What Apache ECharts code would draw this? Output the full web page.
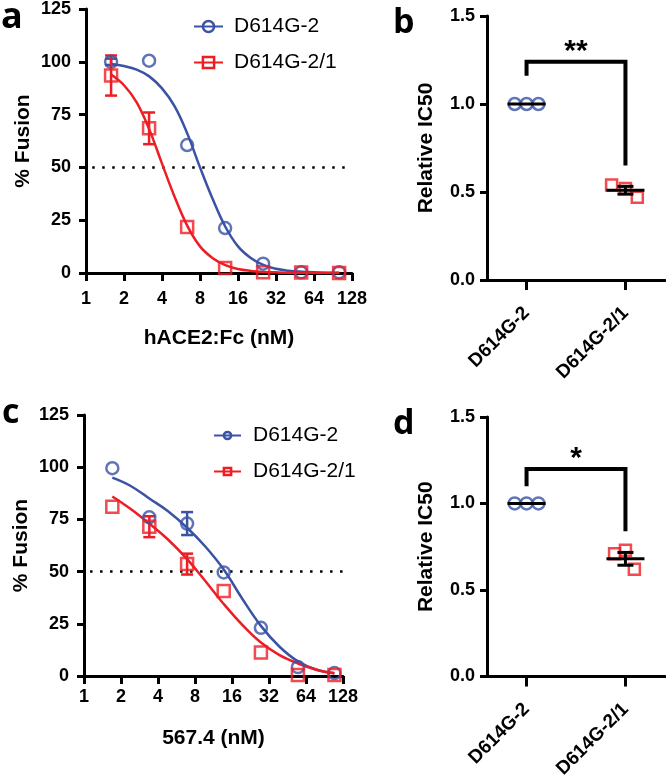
<!DOCTYPE html>
<html><head><meta charset="utf-8">
<script src="https://cdn.jsdelivr.net/npm/echarts@6/dist/echarts.min.js"></script>
<style>html,body{margin:0;padding:0;background:#fff}#c{width:666px;height:781px}</style>
</head><body><div id="c"></div>
<script>
// ---------- data ----------
const seriesNames = ['D614G-2', 'D614G-2/1'];
const groups = ['D614G-2', 'D614G-2/1'];
const fusionTicks = [0, 25, 50, 75, 100, 125];
const ic50Ticks = [0, 0.5, 1.0, 1.5];
const threshold = 50;
const thresholdStart = 1.12;

// panel a (hACE2:Fc)
const aX = [1.58, 3.16, 6.33, 12.65, 25.3, 50.6, 101.2];
const aBlue = [100, 100.5, 60.6, 21.3, 4.4, 0.3, 0.3];
const aBlueErr = [1.5, 0, 0, 0, 0, 0, 0];
const aRed = [93.5, 68.5, 21.8, 2.4, 0.3, 0.2, 0];
const aRedErr = [9.5, 7.5, 0, 0, 0, 0, 0];
const aCurveX = [1.58, 2, 2.52, 3.17, 4, 5.04, 6.35, 8, 10.1, 12.7, 16, 20.2, 25.4, 32, 40.3, 50.8, 64, 80.6, 101.6];
const aCurveBlue = [99, 98, 96.3, 93.1, 87.4, 78.9, 66, 50, 34.9, 21.9, 12.6, 7.1, 3.8, 2.0, 1.1, 0.6, 0.3, 0.15, 0.1];
const aCurveRed = [94, 88.9, 80.8, 68, 51.8, 36, 22.3, 12.6, 7.0, 3.7, 1.9, 1.0, 0.5, 0.3, 0.15, 0.1, 0.05, 0.02, 0.01];

// panel c (567.4)
const cX = [1.7, 3.4, 6.9, 13.7, 27.5, 55, 109];
const cBlue = [99.5, 76, 73, 49.6, 23.1, 4.3, 1.4];
const cBlueErr = [0, 0, 5.5, 0, 0, 0, 0];
const cRed = [81, 71.5, 53.6, 40.7, 11.3, 0.5, 0.5];
const cRedErr = [0, 5, 5, 0, 0, 0, 0];
const cCurveX = [1.7, 2.4, 3.4, 4.8, 6.9, 9.7, 13.7, 19.4, 27.5, 39, 55, 78, 109];
const cCurveBlue = [95, 91, 85, 79, 71, 62, 51, 37, 24, 14, 7, 3, 1.4];
const cCurveRed = [86, 80, 73, 65.5, 56, 45.5, 34.5, 24.5, 16, 10, 6, 3, 1.2];

// panel b
const bBlueX = [-0.12, 0, 0.12];
const bBlueY = [1, 1, 1];
const bRedX = [0.86, 1.0, 1.12];
const bRedY = [0.54, 0.52, 0.47];
const bMean = [1.0, 0.51];
const bSem = [0, 0.022];
const bBracket = [0, 1, 1.24, 1.16, 0.65];
const bStars = '**';

// panel d
const dBlueX = [-0.12, 0, 0.12];
const dBlueY = [1, 1, 1];
const dRedX = [0.89, 1.0, 1.09];
const dRedY = [0.71, 0.73, 0.62];
const dMean = [1.0, 0.68];
const dSem = [0, 0.037];
const dBracket = [0, 1, 1.20, 1.10, 0.84];
const dStars = '*';

// ---------- styling ----------
const BLUE = '#3A53A4', RED = '#EE1D24';
const FONT = '"Liberation Sans", Arial, sans-serif';
const lineAx = {show: true, onZero: false, lineStyle: {color: '#000', width: 3}};
const lbl = (extra) => Object.assign({color: '#000', fontSize: 18, fontWeight: 'bold', fontFamily: FONT}, extra);
const nameStyle = {color: '#000', fontSize: 21, fontWeight: 'bold', fontFamily: FONT};

function pairs(xs, ys) { return xs.map((x, i) => [x, ys[i]]); }
function errData(xs, ys, es) { return xs.map((x, i) => [x, ys[i], es[i]]).filter(d => d[2] > 0); }

function errRender(color, capHalf, lw) {
  return function (params, api) {
    const x = api.value(0), y = api.value(1), e = api.value(2);
    const t = api.coord([x, y + e]), b = api.coord([x, y - e]);
    const st = {stroke: color, lineWidth: lw};
    return {type: 'group', children: [
      {type: 'line', shape: {x1: t[0], y1: t[1], x2: b[0], y2: b[1]}, style: st},
      {type: 'line', shape: {x1: t[0] - capHalf, y1: t[1], x2: t[0] + capHalf, y2: t[1]}, style: st},
      {type: 'line', shape: {x1: b[0] - capHalf, y1: b[1], x2: b[0] + capHalf, y2: b[1]}, style: st}
    ]};
  };
}
function meanRender(params, api) {
  const x = api.value(0), m = api.value(1), s = api.value(2);
  const c = api.coord([x, m]);
  const st = {stroke: '#000', lineWidth: 3};
  const ch = [{type: 'line', shape: {x1: c[0] - 19, y1: c[1], x2: c[0] + 19, y2: c[1]}, style: st}];
  if (s > 0) {
    const t = api.coord([x, m + s]), b = api.coord([x, m - s]);
    ch.push({type: 'line', shape: {x1: t[0], y1: t[1], x2: b[0], y2: b[1]}, style: st});
    ch.push({type: 'line', shape: {x1: t[0] - 8, y1: t[1], x2: t[0] + 8, y2: t[1]}, style: st});
    ch.push({type: 'line', shape: {x1: b[0] - 8, y1: b[1], x2: b[0] + 8, y2: b[1]}, style: st});
  }
  return {type: 'group', children: ch};
}
function bracketRender(stars) {
  return function (params, api) {
    const x1 = api.value(0), x2 = api.value(1), yt = api.value(2), y1 = api.value(3), y2 = api.value(4);
    const p1 = api.coord([x1, y1]), p2 = api.coord([x1, yt]), p3 = api.coord([x2, yt]), p4 = api.coord([x2, y2]);
    return {type: 'group', children: [
      {type: 'polyline', shape: {points: [p1, p2, p3, p4]}, style: {stroke: '#000', lineWidth: 4, fill: null, lineJoin: 'miter'}},
      {type: 'text', x: (p2[0] + p3[0]) / 2, y: p2[1] + 5,
       style: {text: stars, font: 'bold 30px ' + FONT, fill: '#000', align: 'center', verticalAlign: 'bottom'}}
    ]};
  };
}
function thresholdRender(params, api) {
  const p1 = api.coord([api.value(0), api.value(1)]);
  const cs = params.coordSys;
  return {type: 'line', shape: {x1: p1[0], y1: p1[1], x2: cs.x + cs.width, y2: p1[1]},
    style: {stroke: '#000', lineWidth: 2.5, lineDash: [2.5, 7.5]}};
}

function fusionPanel(gi, xName, nameGapX, lblMargin) {
  return {
    x: {gridIndex: gi, type: 'log', logBase: 2, min: 1, max: 128, splitNumber: 7,
        axisLine: lineAx, axisTick: {show: true, length: 8, lineStyle: {color: '#000', width: 3}},
        axisLabel: lbl({margin: lblMargin, formatter: v => String(Math.round(v))}),
        splitLine: {show: false}, name: xName, nameLocation: 'middle', nameGap: nameGapX, nameTextStyle: nameStyle},
    y: {gridIndex: gi, type: 'value', min: fusionTicks[0], max: fusionTicks[fusionTicks.length - 1], interval: 25,
        axisLine: lineAx, axisTick: {show: true, length: 7, lineStyle: {color: '#000', width: 3}},
        axisLabel: lbl({margin: 15}), splitLine: {show: false},
        name: '% Fusion', nameLocation: 'middle', nameGap: 52, nameTextStyle: nameStyle}
  };
}
function icPanel(gi) {
  return {
    x: {gridIndex: gi, type: 'value', min: -0.4, max: 1.4,
        axisLine: lineAx,
        axisTick: {show: true, customValues: [0, 1], length: 10, lineStyle: {color: '#000', width: 3}},
        axisLabel: lbl({customValues: [0, 1], formatter: v => groups[Math.round(v)], rotate: 45, margin: 30, fontSize: 19}),
        splitLine: {show: false}},
    y: {gridIndex: gi, type: 'value', min: ic50Ticks[0], max: ic50Ticks[ic50Ticks.length - 1], interval: 0.5,
        axisLine: lineAx, axisTick: {show: true, length: 7, lineStyle: {color: '#000', width: 3}},
        axisLabel: lbl({margin: 12, formatter: v => v.toFixed(1)}), splitLine: {show: false},
        name: 'Relative IC50', nameLocation: 'middle', nameGap: 50, nameTextStyle: nameStyle}
  };
}

const pa = fusionPanel(0, 'hACE2:Fc (nM)', 55, 17);
const pb = icPanel(1);
const pc = fusionPanel(2, '567.4 (nM)', 52, 12);
const pd = icPanel(3);

const hollow = (c) => ({color: 'transparent', borderColor: c, borderWidth: 2.5});
function curve(name, gi, xs, ys, color, sym) {
  return {name: name, type: 'line', xAxisIndex: gi, yAxisIndex: gi, data: pairs(xs, ys),
    smooth: 0.4, symbol: sym, showSymbol: false, lineStyle: {color: color, width: 2.5},
    itemStyle: hollow(color), silent: true, z: 2};
}
function thresh(gi) {
  return {type: 'custom', xAxisIndex: gi, yAxisIndex: gi,
    data: [[thresholdStart, threshold]], renderItem: thresholdRender, silent: true, z: 1};
}
function pts(name, gi, xs, ys, color, sym, size) {
  return {name: name, type: 'scatter', xAxisIndex: gi, yAxisIndex: gi, data: pairs(xs, ys),
    symbol: sym, symbolSize: size, itemStyle: hollow(color), silent: true, z: 4};
}
function errs(gi, xs, ys, es, color) {
  return {type: 'custom', xAxisIndex: gi, yAxisIndex: gi, data: errData(xs, ys, es),
    renderItem: errRender(color, 6, 2.5), silent: true, z: 3};
}

const option = {
  animation: false,
  backgroundColor: '#fff',
  grid: [
    {left: 86, top: 7, width: 266, height: 266},
    {left: 487, top: 16, width: 178, height: 264},
    {left: 84, top: 415, width: 259, height: 261},
    {left: 487, top: 417, width: 178, height: 265}
  ],
  xAxis: [pa.x, pb.x, pc.x, pd.x],
  yAxis: [pa.y, pb.y, pc.y, pd.y],
  legend: [
    {left: 188, top: 11, orient: 'vertical', itemWidth: 29, itemHeight: 14, itemGap: 15,
     textStyle: {fontSize: 21, fontFamily: FONT, color: '#000', padding: [0, 0, 0, 6]},
     data: [{name: seriesNames[0], itemStyle: hollow(BLUE)}, {name: seriesNames[1], itemStyle: hollow(RED)}]},
    {left: 208, top: 420, orient: 'vertical', itemWidth: 27, itemHeight: 9, itemGap: 15,
     textStyle: {fontSize: 21, fontFamily: FONT, color: '#000', padding: [0, 0, 0, 7]},
     data: [{name: seriesNames[0], itemStyle: hollow(BLUE)}, {name: seriesNames[1], itemStyle: hollow(RED)}]}
  ],
  series: [
    thresh(0),
    curve(seriesNames[0], 0, aCurveX, aCurveBlue, BLUE, 'circle'),
    curve(seriesNames[1], 0, aCurveX, aCurveRed, RED, 'rect'),
    errs(0, aX, aBlue, aBlueErr, BLUE),
    errs(0, aX, aRed, aRedErr, RED),
    pts(seriesNames[0], 0, aX, aBlue, BLUE, 'circle', 12),
    pts(seriesNames[1], 0, aX, aRed, RED, 'rect', 12),

    thresh(2),
    curve(seriesNames[0], 2, cCurveX, cCurveBlue, BLUE, 'circle'),
    curve(seriesNames[1], 2, cCurveX, cCurveRed, RED, 'rect'),
    errs(2, cX, cBlue, cBlueErr, BLUE),
    errs(2, cX, cRed, cRedErr, RED),
    pts(seriesNames[0], 2, cX, cBlue, BLUE, 'circle', 12),
    pts(seriesNames[1], 2, cX, cRed, RED, 'rect', 12),

    pts('b1', 1, bBlueX, bBlueY, BLUE, 'circle', 12),
    pts('b2', 1, bRedX, bRedY, RED, 'rect', 11),
    {type: 'custom', xAxisIndex: 1, yAxisIndex: 1, data: [[0, bMean[0], bSem[0]], [1, bMean[1], bSem[1]]], renderItem: meanRender, silent: true, z: 5},
    {type: 'custom', xAxisIndex: 1, yAxisIndex: 1, data: [bBracket], renderItem: bracketRender(bStars), silent: true, z: 5},

    pts('d1', 3, dBlueX, dBlueY, BLUE, 'circle', 12),
    pts('d2', 3, dRedX, dRedY, RED, 'rect', 11),
    {type: 'custom', xAxisIndex: 3, yAxisIndex: 3, data: [[0, dMean[0], dSem[0]], [1, dMean[1], dSem[1]]], renderItem: meanRender, silent: true, z: 5},
    {type: 'custom', xAxisIndex: 3, yAxisIndex: 3, data: [dBracket], renderItem: bracketRender(dStars), silent: true, z: 5}
  ],
  graphic: [
    {type: 'text', left: 1, top: 0, style: {text: 'a', font: 'bold 36px "Open Sans", sans-serif', fill: '#000'}},
    {type: 'text', left: 393, top: 6, style: {text: 'b', font: 'bold 34px "Open Sans", sans-serif', fill: '#000'}},
    {type: 'text', left: 2, top: 396, style: {text: 'c', font: 'bold 34px "Open Sans", sans-serif', fill: '#000'}},
    {type: 'text', left: 393, top: 407, style: {text: 'd', font: 'bold 34px "Open Sans", sans-serif', fill: '#000'}}
  ]
};
const chart = echarts.init(document.getElementById('c'));
chart.setOption(option);
</script>
</body></html>
